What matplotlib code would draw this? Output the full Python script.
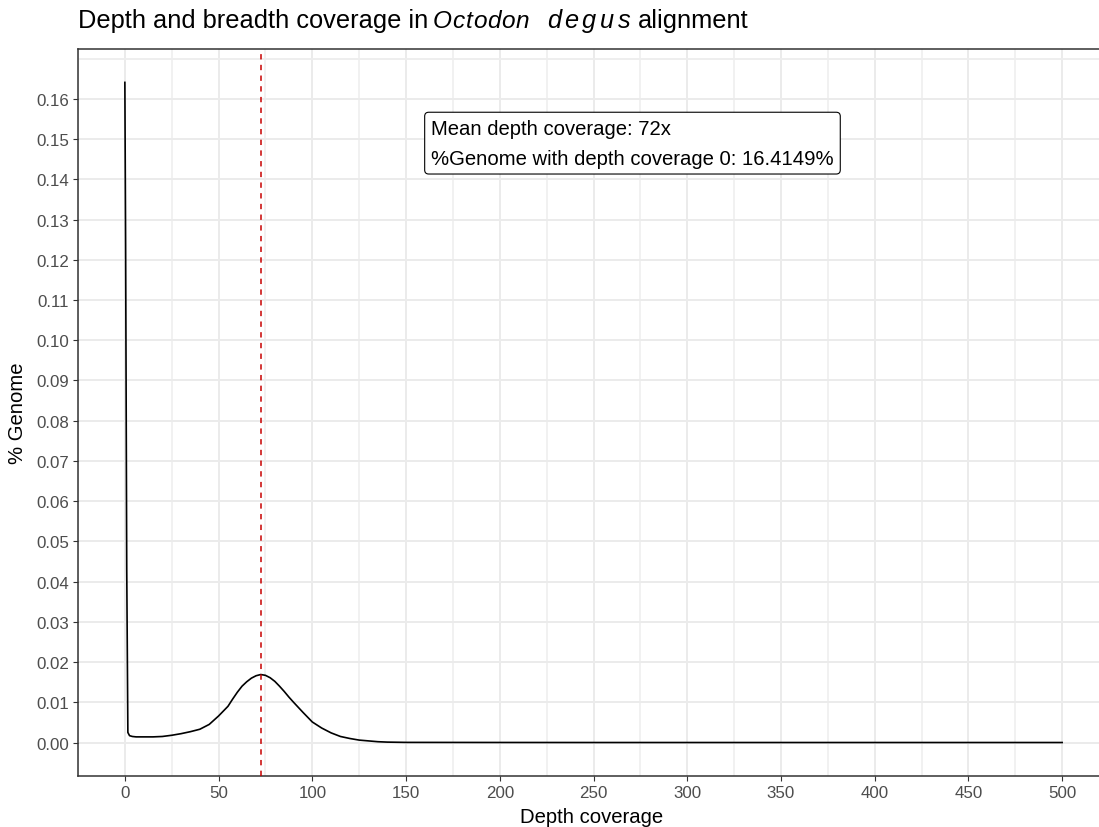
import matplotlib
matplotlib.use("Agg")
import matplotlib.pyplot as plt
import numpy as np

# ---- data ----
depth = [0, 0.4, 1.0, 1.6, 2.5, 4, 6, 10, 15, 20, 25, 30, 35, 40, 45, 50, 55,
         57.5, 60, 62.5, 65, 67.5, 70, 72.5, 75, 77.5, 80, 82.5, 85, 87.5, 90,
         95, 100, 105, 110, 115, 120, 125, 130, 135, 140,
         150, 200, 250, 300, 350, 400, 450, 500]
genome_frac = [0.1641, 0.1240, 0.0432, 0.0025, 0.0017, 0.0015, 0.0014, 0.0014,
               0.0014, 0.0015, 0.0018, 0.0022, 0.0027, 0.0033, 0.0045, 0.0066,
               0.0090, 0.0108, 0.0125, 0.0140, 0.0151, 0.0160, 0.0166, 0.0169,
               0.0167, 0.0161, 0.0152, 0.0140, 0.0127, 0.0113, 0.0100,
               0.0075, 0.0051, 0.0036, 0.0024, 0.0015, 0.0010, 0.0006, 0.0004,
               0.0002, 0.0001, 0.00003, 0.00001, 0.0, 0.0, 0.0, 0.0, 0.0, 0.0]
mean_depth = 72.7
label_lines = ["Mean depth coverage: 72x",
               "%Genome with depth coverage 0: 16.4149%"]
x_breaks = list(range(0, 501, 50))
y_breaks = [round(0.01 * i, 2) for i in range(17)]
y_labels = [f"{v:.2f}" for v in y_breaks]

plt.rcParams['font.family'] = ['Liberation Sans', 'DejaVu Sans']

W, H = 1099, 828
fig = plt.figure(figsize=(W / 100, H / 100), dpi=100)
left, right, top, bottom = 78, 1109, 50, 776.5
ax = fig.add_axes([left / W, (H - bottom) / H, (right - left) / W, (bottom - top) / H])

ax.set_xlim(-25, 525)
ax.set_ylim(-0.0082, 0.1724)

ax.set_xticks(x_breaks)
ax.set_xticks(np.arange(-25, 526, 50), minor=True)
ax.set_yticks(y_breaks)
ax.set_yticklabels(y_labels)
ax.set_yticks(np.round(np.arange(-0.005, 0.1701, 0.005), 3)[1::2].tolist() + [0.17], minor=True)

ax.set_axisbelow(True)
ax.grid(which='major', color='#EBEBEB', lw=1.4)
ax.grid(which='minor', color='#EEEEEE', lw=1.1)
for s in ax.spines.values():
    s.set_color('#333333')
    s.set_linewidth(1.1)

ax.tick_params(which='major', length=3.6, width=0.8, color='#333333',
               labelcolor='#4D4D4D', labelsize=12.2, pad=2.9)
ax.tick_params(which='minor', length=0)

ax.plot(depth, genome_frac, color='black', lw=1.2, zorder=3,
        solid_joinstyle='round')
ax.axvline(mean_depth, color='#C80000', lw=1.1, ls=(0, (3.5, 3.5)), zorder=4)

ax.text(163.4, 0.1490, "\n".join(label_lines), ha='left', va='center',
        fontsize=14.6, color='black', linespacing=1.72, zorder=5,
        bbox=dict(boxstyle='round,pad=0.32,rounding_size=0.2', fc='white',
                  ec='black', lw=0.8))

# title in pieces (italic species name, letter-spaced in the reference)
ty = 1 - 28.3 / H
fig.text(78 / W, ty, "Depth and breadth coverage in", fontsize=18.3, va='baseline', ha='left')
renderer = fig.canvas.get_renderer()
xpos = 433.0
for ch in "Octodon":
    t = fig.text(xpos / W, ty, ch, fontsize=17.6, style='italic', va='baseline', ha='left')
    xpos += t.get_window_extent(renderer).width + 0.6
xpos = 547.0
for ch in "degus":
    t = fig.text(xpos / W, ty, ch, fontsize=18.3, style='italic', va='baseline', ha='left')
    xpos += t.get_window_extent(renderer).width + 3.5
fig.text(638 / W, ty, "alignment", fontsize=18.3, va='baseline', ha='left')

fig.text(592 / W, 1 - 823.5 / H, "Depth coverage", fontsize=14.6, ha='center', va='baseline')
fig.text(18 / W, 1 - 413 / H, "% Genome", fontsize=14.6, rotation=90, ha='center', va='center')

fig.savefig("out.png", dpi=100)
